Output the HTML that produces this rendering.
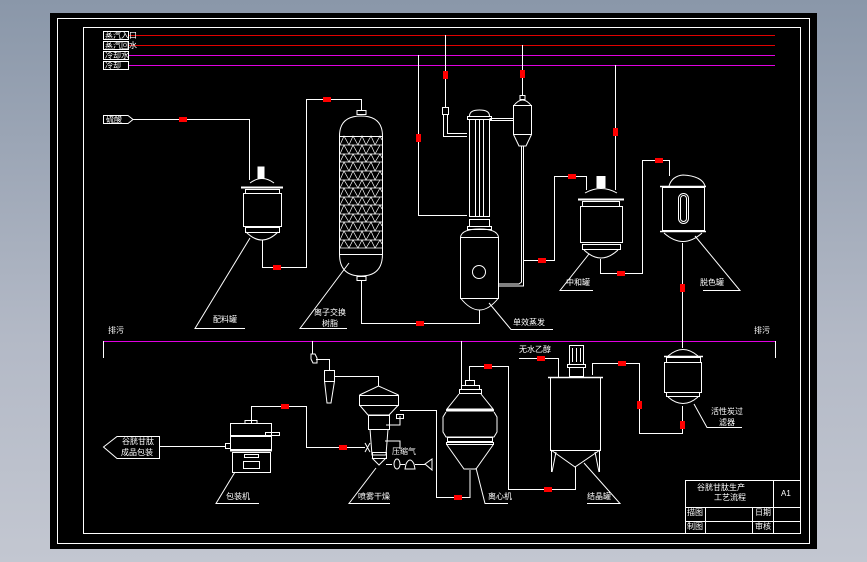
<!DOCTYPE html>
<html><head><meta charset="utf-8"><style>
html,body{margin:0;padding:0;width:867px;height:562px;overflow:hidden;background:linear-gradient(#8a97a9,#b3b9c6 60%,#c3c7d1);}
svg{position:absolute;left:0;top:0}
text{font-family:"Liberation Sans","Noto Sans CJK SC",sans-serif;fill:#fff;font-size:8px}
</style></head><body>
<svg width="867" height="562" viewBox="0 0 867 562">
<rect x="50" y="13" width="767" height="536" fill="#000"/>
<g fill="none" stroke="#fff" stroke-width="1">
<rect x="57.5" y="18.5" width="752" height="525"/>
<rect x="83.5" y="27.5" width="717" height="506"/>
</g>
<!-- header lines -->
<g stroke-width="1">
<line x1="128" y1="35.5" x2="775" y2="35.5" stroke="#e00000"/>
<line x1="128" y1="45.5" x2="775" y2="45.5" stroke="#e00000"/>
<line x1="128" y1="55.5" x2="775" y2="55.5" stroke="#e000e0"/>
<line x1="128" y1="65.5" x2="775" y2="65.5" stroke="#e000e0"/>
<line x1="103" y1="341.5" x2="775" y2="341.5" stroke="#e000e0"/>
</g>
<g fill="none" stroke="#fff" stroke-width="1">
<rect x="103.5" y="31.5" width="25" height="8"/><rect x="103.5" y="41.5" width="25" height="8"/>
<rect x="103.5" y="51.5" width="25" height="8"/><rect x="103.5" y="61.5" width="25" height="8"/>
<line x1="103.5" y1="341" x2="103.5" y2="358"/><line x1="775.5" y1="341" x2="775.5" y2="358"/>
<!-- input -->
<polygon points="103.5,115.5 128,115.5 133,119.5 128,123.5 103.5,123.5"/>
<polyline points="133,119.5 249.5,119.5 249.5,180"/>
<!-- reactor 1 -->
<rect x="258" y="167" width="6" height="11" fill="#fff"/>
<path d="M250 183 Q262 174 274 183"/>
<line x1="241" y1="187.5" x2="283" y2="187.5" stroke-width="2"/>
<rect x="245.5" y="189.5" width="34" height="4"/>
<rect x="243.5" y="193.5" width="38" height="33"/>
<rect x="245.5" y="227.5" width="34" height="5"/>
<path d="M246 232 Q262 248 278 232"/>
<polyline points="262.5,240 262.5,267.5 306.5,267.5 306.5,99.5 361.5,99.5 361.5,110"/>
<!-- column -->
<rect x="357" y="110.5" width="9" height="4"/>
<path d="M339.5 136 Q339.5 116 361 116 Q382.5 116 382.5 136"/>
<rect x="339.5" y="136.5" width="43" height="118"/>
<path d="M339.5 254 Q339.5 276 361 276 Q382.5 276 382.5 254"/>
<rect x="357" y="276.5" width="9" height="4"/>
<polyline points="361.5,280 361.5,323.5 479.5,323.5 479.5,310"/>
</g>
<g stroke="#fff" stroke-width="0.7" fill="none">
<path d="M340 145H382M340 154H382M340 162H382M340 171H382M340 180H382M340 188H382M340 197H382M340 205H382M340 214H382M340 222H382M340 231H382M340 240H382M340 248H382"/>
<path d="M340 145 L344 136 L349 145 L353 136 L358 145 L362 136 L366 145 L371 136 L375 145 L380 136 L382 140"/>
<path d="M340 162 L344 154 L349 162 L353 154 L358 162 L362 154 L366 162 L371 154 L375 162 L380 154 L382 158"/>
<path d="M340 180 L344 171 L349 180 L353 171 L358 180 L362 171 L366 180 L371 171 L375 180 L380 171 L382 175"/>
<path d="M340 197 L344 188 L349 197 L353 188 L358 197 L362 188 L366 197 L371 188 L375 197 L380 188 L382 192"/>
<path d="M340 214 L344 205 L349 214 L353 205 L358 214 L362 205 L366 214 L371 205 L375 214 L380 205 L382 209"/>
<path d="M340 231 L344 222 L349 231 L353 222 L358 231 L362 222 L366 231 L371 222 L375 231 L380 222 L382 226"/>
<path d="M340 248 L344 240 L349 248 L353 240 L358 248 L362 240 L366 248 L371 240 L375 248 L380 240 L382 244"/>
<path d="M340 154 L344 145 L349 154 L353 145 L358 154 L362 145 L366 154 L371 145 L375 154 L380 145"/>
<path d="M340 171 L344 162 L349 171 L353 162 L358 171 L362 162 L366 171 L371 162 L375 171 L380 162"/>
<path d="M340 188 L344 180 L349 188 L353 180 L358 188 L362 180 L366 188 L371 180 L375 188 L380 180"/>
<path d="M340 205 L344 197 L349 205 L353 197 L358 205 L362 197 L366 205 L371 197 L375 205 L380 197"/>
<path d="M340 222 L344 214 L349 222 L353 214 L358 222 L362 214 L366 222 L371 214 L375 222 L380 214"/>
<path d="M340 240 L344 231 L349 240 L353 231 L358 240 L362 231 L366 240 L371 231 L375 240 L380 231"/>
</g>
<g fill="none" stroke="#fff" stroke-width="1">
<!-- evaporator -->
<polyline points="445.5,35 445.5,107"/>
<rect x="442.5" y="107.5" width="6" height="7"/>
<polyline points="443.5,114 443.5,136.5 467,136.5"/><polyline points="447.5,114 447.5,133.5 467,133.5"/>
<polyline points="418.5,55 418.5,215.5 467,215.5"/>
<path d="M469.5 116 Q469.5 110 479.5 110 Q489.5 110 489.5 116"/>
<rect x="467.5" y="116.5" width="24" height="3"/>
<rect x="469.5" y="119.5" width="20" height="97"/>
<line x1="475.5" y1="120" x2="475.5" y2="216"/><line x1="479.5" y1="120" x2="479.5" y2="216"/><line x1="483.5" y1="120" x2="483.5" y2="216"/>
<rect x="467.5" y="226.5" width="24" height="3"/>
<rect x="469.5" y="219.5" width="20" height="7"/>
<path d="M460.5 237 Q462 229 479.5 229 Q497 229 498.5 237"/>
<rect x="460.5" y="237.5" width="38" height="61"/>
<path d="M460.5 298 Q470 310 479.5 310 Q489 310 498.5 298"/>
<circle cx="479" cy="272" r="6.5"/>
<line x1="489.5" y1="118.5" x2="513" y2="118.5"/><line x1="489.5" y1="120.5" x2="513" y2="120.5"/>
<!-- separator -->
<line x1="522.5" y1="45" x2="522.5" y2="95"/>
<rect x="520" y="95.5" width="5" height="4"/>
<path d="M513.5 106 Q518 100 522.5 100 Q527 100 531.5 106"/>
<rect x="513.5" y="105.5" width="18" height="29"/>
<path d="M513.5 134.5 L519 146 L526 146 L531.5 134.5"/>
<polyline points="521.5,146 521.5,282 519,284 499,284"/><polyline points="523.5,146 523.5,286 499,286"/>
<polyline points="524,260.5 554.5,260.5 554.5,176.5 586.5,176.5 586.5,190"/>
<!-- reactor 2 -->
<rect x="597" y="176.5" width="8" height="11" fill="#fff"/>
<path d="M585 193 Q601 184 617 193"/>
<line x1="578" y1="199.5" x2="624" y2="199.5" stroke-width="2"/>
<rect x="582.5" y="201.5" width="37" height="5"/>
<rect x="580.5" y="206.5" width="42" height="36"/>
<rect x="582.5" y="244.5" width="38" height="5"/>
<path d="M584 250 Q601 266 618 250"/>
<polyline points="600.5,259 600.5,273.5 642.5,273.5 642.5,160.5 669.5,160.5 669.5,176"/>
<line x1="615.5" y1="65" x2="615.5" y2="190"/>
<!-- decolor tank -->
<path d="M669 186 Q672 176 683 175 Q702 176 705 186"/>
<line x1="660" y1="186.5" x2="706" y2="186.5" stroke-width="1.5"/>
<rect x="662.5" y="187.5" width="42" height="43"/>
<line x1="660" y1="231.5" x2="706" y2="231.5" stroke-width="1.5"/>
<path d="M664 233 Q683 250 702 233"/>
<rect x="678.5" y="193.5" width="10" height="30" rx="5"/>
<rect x="680.5" y="195.5" width="6" height="26" rx="3"/>
<line x1="682.5" y1="243" x2="682.5" y2="348"/>
<!-- leaders -->
<polyline points="250,238 195,328.5 245,328.5"/>
<polyline points="349,263 300,328.5 347,328.5"/>
<polyline points="489,303 511,329.5 553,329.5"/>
<polyline points="589,254 560,290.5 593,290.5"/>
<polyline points="695,236 740,290.5 703,290.5"/>
<!-- lower left -->
<polyline points="312.5,341 312.5,354"/>
<path d="M311 354 h4 l2 4 v5 h-4 l-2 -4z"/>
<polyline points="316,359.5 329.5,359.5 329.5,370"/>
<rect x="324.5" y="370.5" width="10" height="11"/>
<path d="M324.5 381 L327 403 L331 403 L334.5 381"/>
<polyline points="334,376.5 378.5,376.5 378.5,386"/>
<!-- spray dryer -->
<path d="M359.5 395 L378.5 386 L398.5 395"/>
<rect x="359.5" y="395.5" width="39" height="10"/>
<path d="M359.5 405 L368 415 L389 415 L398.5 405"/>
<rect x="368.5" y="415.5" width="21" height="14"/>
<path d="M370 429 L372 455 L386 455 L388 429"/>
<rect x="372.5" y="452.5" width="14" height="6"/>
<path d="M372 458 L379 465 L386 458"/>
<polyline points="386,425 400,425 400,416"/><rect x="396.5" y="414.5" width="7" height="4"/>
<polyline points="400,410.5 436.5,410.5 436.5,497.5 470,497.5 470,470"/>
<polyline points="385,441 400,441 400,449"/>
<line x1="386" y1="464.5" x2="392" y2="464.5"/>
<ellipse cx="397" cy="464" rx="3" ry="5"/>
<line x1="400" y1="464.5" x2="405" y2="464.5"/>
<path d="M406 464 Q410 456 414 464 L415 469 L405 469z"/>
<line x1="415" y1="464.5" x2="425" y2="464.5"/>
<path d="M425 464 L432 459 L432 470z"/>
<polyline points="251.5,423 251.5,406.5 306.5,406.5 306.5,447.5 365,447.5"/>
<path d="M365 443 L370 452 M365 452 L370 443"/>
<!-- packer -->
<rect x="230.5" y="423.5" width="41" height="12"/>
<rect x="230.5" y="436.5" width="41" height="13"/>
<line x1="230" y1="450.5" x2="272" y2="450.5" stroke-width="2"/>
<rect x="232.5" y="452.5" width="38" height="20"/>
<rect x="244.5" y="454.5" width="14" height="3"/><rect x="243.5" y="461.5" width="16" height="7"/>
<rect x="245" y="420.5" width="12" height="3"/>
<rect x="265.5" y="432.5" width="14" height="3"/>
<rect x="225.5" y="443.5" width="5" height="5"/>
<polygon points="103.5,447 117,436.5 159.5,436.5 159.5,458.5 117,458.5"/>
<line x1="159" y1="446.5" x2="225" y2="446.5"/>
<polyline points="235,472 216,503.5 259,503.5"/>
<polyline points="376,468 349,503.5 390,503.5"/>
<!-- centrifuge -->
<line x1="461.5" y1="341" x2="461.5" y2="385"/>
<polyline points="469.5,380 469.5,366.5 508.5,366.5 508.5,489.5 575.5,489.5 575.5,467"/>
<rect x="465.5" y="380.5" width="9" height="5"/>
<rect x="461.5" y="385.5" width="18" height="4"/>
<rect x="459.5" y="389.5" width="22" height="4"/>
<path d="M459 394 L447 409 L493 409 L481 394"/>
<line x1="446" y1="410.5" x2="494" y2="410.5" stroke-width="2"/>
<path d="M446 412 L443 417 L443 432 L446 437 L494 437 L497 432 L497 417 L494 412"/>
<rect x="447.5" y="437.5" width="45" height="4"/>
<rect x="446.5" y="442.5" width="47" height="2"/>
<path d="M447 445 L464 469 L476 469 L493 445"/>
<polyline points="476,468 485,503.5 508,503.5"/>
<!-- crystallizer -->
<polyline points="519,358.5 558.5,358.5 558.5,377"/>
<rect x="569.5" y="345.5" width="14" height="19"/>
<line x1="572.5" y1="348" x2="572.5" y2="362"/><line x1="576.5" y1="348" x2="576.5" y2="362"/><line x1="580.5" y1="348" x2="580.5" y2="362"/>
<rect x="567.5" y="364.5" width="18" height="3"/>
<rect x="569.5" y="367.5" width="14" height="9"/>
<line x1="548" y1="377.5" x2="603" y2="377.5" stroke-width="1.5"/>
<rect x="550.5" y="377.5" width="50" height="73"/>
<path d="M551 450 L575 467 L600 450"/>
<line x1="551.5" y1="450" x2="551.5" y2="472"/><line x1="599.5" y1="450" x2="599.5" y2="472"/>
<line x1="556" y1="452" x2="552" y2="472"/><line x1="595" y1="452" x2="599" y2="472"/>
<polyline points="584,463 620,503.5 587,503.5"/>
<polyline points="592.5,375 592.5,363.5 639.5,363.5 639.5,433.5 682.5,433.5 682.5,406"/>
<!-- reactor 3 -->
<path d="M668 356 Q683 343 698 356"/>
<line x1="664" y1="356.5" x2="703" y2="356.5" stroke-width="1.5"/>
<rect x="666.5" y="357.5" width="34" height="5"/>
<rect x="664.5" y="362.5" width="37" height="30"/>
<rect x="666.5" y="392.5" width="33" height="4"/>
<path d="M668 397 Q683 410 698 397"/>
<polyline points="694,404 707,427.5 742,427.5"/>
<!-- title block -->
<rect x="685.5" y="480.5" width="115" height="53"/>
<line x1="685" y1="507.5" x2="800" y2="507.5"/>
<line x1="685" y1="521.5" x2="800" y2="521.5"/>
<line x1="773.5" y1="480" x2="773.5" y2="534"/>
<line x1="752.5" y1="507" x2="752.5" y2="534"/>
<line x1="705.5" y1="507" x2="705.5" y2="534"/>
</g>
<!-- red valves -->
<g fill="#f00">
<rect x="179" y="117" width="8" height="5"/><rect x="273" y="265" width="8" height="5"/>
<rect x="323" y="97" width="8" height="5"/><rect x="416" y="321" width="8" height="5"/>
<rect x="443" y="71" width="5" height="8"/><rect x="520" y="70" width="5" height="8"/>
<rect x="416" y="134" width="5" height="8"/><rect x="613" y="128" width="5" height="8"/>
<rect x="538" y="258" width="8" height="5"/><rect x="568" y="174" width="8" height="5"/>
<rect x="617" y="271" width="8" height="5"/><rect x="655" y="158" width="8" height="5"/>
<rect x="680" y="284" width="5" height="8"/>
<rect x="281" y="404" width="8" height="5"/><rect x="339" y="445" width="8" height="5"/>
<rect x="454" y="495" width="8" height="5"/><rect x="484" y="364" width="8" height="5"/>
<rect x="544" y="487" width="8" height="5"/><rect x="537" y="356" width="8" height="5"/>
<rect x="618" y="361" width="8" height="5"/><rect x="637" y="401" width="5" height="8"/>
<rect x="680" y="421" width="5" height="8"/>
</g>
<!-- labels -->
<g>
<text x="105" y="38" font-size="5">蒸汽入口</text><text x="105" y="48" font-size="5">蒸汽回水</text>
<text x="105" y="58" font-size="5">冷却水</text><text x="105" y="68" font-size="5">冷却</text>
<text x="106" y="122" font-size="5">硫酸</text>
<text x="213" y="322">配料罐</text>
<text x="314" y="315">离子交换</text><text x="322" y="326">树脂</text>
<text x="513" y="325">单效蒸发</text>
<text x="566" y="285">中和罐</text>
<text x="700" y="285">脱色罐</text>
<text x="108" y="333">排污</text><text x="754" y="333">排污</text>
<text x="122" y="444">谷胱甘肽</text><text x="121" y="455">成品包装</text>
<text x="226" y="499">包装机</text>
<text x="358" y="499">喷雾干燥</text>
<text x="392" y="454" font-size="6">压缩气</text>
<text x="488" y="499">离心机</text>
<text x="587" y="499">结晶罐</text>
<text x="519" y="352">无水乙醇</text>
<text x="711" y="414">活性炭过</text><text x="719" y="425">滤器</text>
<text x="697" y="490">谷胱甘肽生产</text><text x="714" y="500">工艺流程</text>
<text x="781" y="496">A1</text>
<text x="687" y="515">描图</text><text x="755" y="515">日期</text>
<text x="687" y="529">制图</text><text x="755" y="529">审核</text>
</g>
</svg>
</body></html>
